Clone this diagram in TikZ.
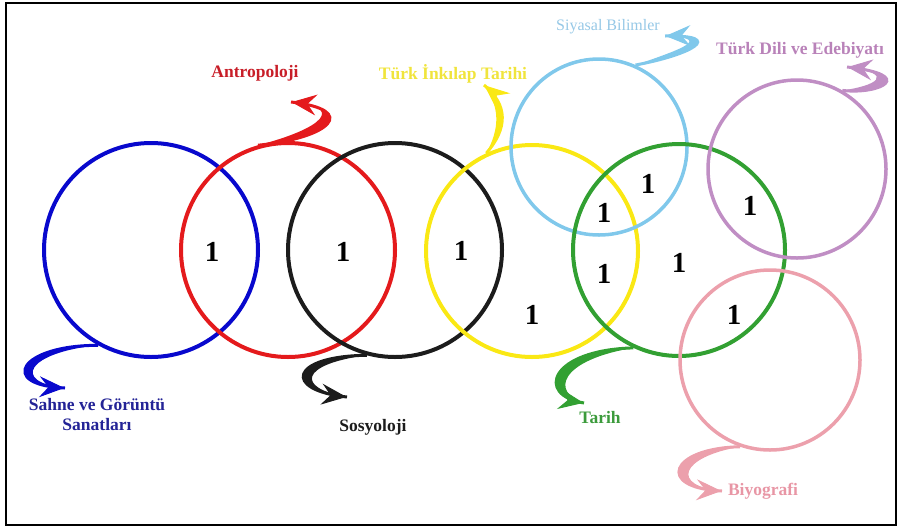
\documentclass[tikz,border=0pt]{standalone}
\usepackage{fontspec}
\setmainfont{Liberation Serif}
\usepackage{tikz}
\usepackage{xcolor}
\usetikzlibrary{positioning, arrows.meta, decorations.markings}

\definecolor{cblue}{RGB}{8,8,205}
\definecolor{cred}{RGB}{228,26,28}
\definecolor{cblack}{RGB}{28,28,28}
\definecolor{cyellow}{RGB}{250,232,20}
\definecolor{csky}{RGB}{128,200,235}
\definecolor{cgreen}{RGB}{50,160,50}
\definecolor{cpurple}{RGB}{192,142,196}
\definecolor{cpink}{RGB}{236,160,172}

\definecolor{tblue}{RGB}{35,35,150}
\definecolor{tred}{RGB}{200,30,40}
\definecolor{tyellow}{RGB}{240,228,60}
\definecolor{tsky}{RGB}{150,200,230}
\definecolor{tpurple}{RGB}{185,130,185}
\definecolor{tgreen}{RGB}{60,155,60}
\definecolor{tpink}{RGB}{232,150,165}

\tikzset{
	ring/.style={circle, draw, line width=4pt, minimum size=#1, inner sep=0pt},
	lbl/.style={font=\bfseries\fontsize{17.5}{20}\selectfont, align=center},
	num/.style={font=\bfseries\fontsize{29}{30}\selectfont, inner sep=0pt},
	curl/.style={line width=3pt, postaction={decorate},
		decoration={markings,
			mark=at position 0.995 with {\arrow[line width=1pt]{Stealth[length=25pt, width=21pt, inset=9pt]}}}}
}

\begin{document}
\begin{tikzpicture}[x=1pt, y=-1pt]
		\useasboundingbox (0,0) rectangle (901,528);
		\draw[line width=2pt] (6,3) rectangle (896,525);

		% rings
		\node[ring=214pt, cblue] (sahne) at (151,250) {};
		\node[ring=214pt, cred] (antro) at (288,250) {};
		\node[ring=214pt, cblack] (sosyo) at (395,250) {};
		\node[ring=212pt, cyellow] (inkilap) at (532,251) {};
		\node[ring=176pt, csky, line width=3.5pt] (siyasal) at (599,147) {};
		\node[ring=212pt, cgreen] (tarih) at (679,250) {};
		\node[ring=178pt, cpurple, line width=3.5pt] (edebiyat) at (797,169) {};
		\node[ring=180pt, cpink, line width=3.5pt] (biyo) at (770,360) {};

		% labels
		\node[lbl, tred] (antrolbl) at (255,73) {Antropoloji};
		\node[lbl, tyellow] (inkilaplbl) at (453,74) {Türk İnkılap Tarihi};
		\node[lbl, tsky, font=\fontsize{16}{18}\selectfont] (siyasallbl) at (608,27) {Siyasal Bilimler};
		\node[lbl, tpurple] (edebiyatlbl) at (800,50) {Türk Dili ve Edebiyatı};
		\node[lbl, tblue] (sahnelbl) at (97,415) {Sahne ve Görüntü\\Sanatları};
		\node[lbl, cblack] (sosyolbl) at (373,427) {Sosyoloji};
		\node[lbl, tgreen] (tarihlbl) at (600,418) {Tarih};
		\node[lbl, tpink] (biyolbl) at (763,491) {Biyografi};

		% arrow tips
		\coordinate (antrotip) at (291,102);
		\coordinate (inkilaptip) at (484,85);
		\coordinate (siyasaltip) at (665,36);
		\coordinate (edebiyattip) at (847,67);
		\coordinate (sahnetip) at (65,388);
		\coordinate (sosyotip) at (347,397);
		\coordinate (tarihtip) at (584,403);
		\coordinate (biyotip) at (722,491);

		% curly arrows: thin stroke plus a thick brush part
		\fill[cred] (antro.106) .. controls (330,138) and (360,110) .. (antrotip)
			.. controls (345,106) and (325,128) .. (antro.106);
		\draw[curl, cred] (antro.106)
			.. controls (330,138) and (360,110) .. (antrotip);

		\fill[cyellow] (inkilap.115) .. controls (508,128) and (508,105) .. (inkilaptip)
			.. controls (500,107) and (500,128) .. (inkilap.115);
		\draw[curl, cyellow] (inkilap.115)
			.. controls (508,128) and (508,105) .. (inkilaptip);

		\fill[csky] (siyasal.66) .. controls (690,55) and (728,35) .. (siyasaltip)
			.. controls (712,38) and (685,48) .. (siyasal.66);
		\draw[curl, csky] (siyasal.66)
			.. controls (690,55) and (728,35) .. (siyasaltip);

		\fill[cpurple] (edebiyat.60) .. controls (880,95) and (918,75) .. (edebiyattip)
			.. controls (898,74) and (875,86) .. (edebiyat.60);
		\draw[curl, cpurple] (edebiyat.60)
			.. controls (880,95) and (918,75) .. (edebiyattip);

		\fill[cblue] (sahne.241) .. controls (20,345) and (-3,385) .. (sahnetip)
			.. controls (10,382) and (28,352) .. (sahne.241);
		\draw[curl, cblue] (sahne.241)
			.. controls (20,345) and (-3,385) .. (sahnetip);

		\fill[cblack] (sosyo.255) .. controls (290,356) and (282,390) .. (sosyotip)
			.. controls (295,388) and (300,364) .. (sosyo.255);
		\draw[curl, cblack] (sosyo.255)
			.. controls (290,356) and (282,390) .. (sosyotip);

		\fill[cgreen] (tarih.245) .. controls (550,350) and (535,395) .. (tarihtip)
			.. controls (550,392) and (560,360) .. (tarih.245);
		\draw[curl, cgreen] (tarih.245)
			.. controls (550,350) and (535,395) .. (tarihtip);

		\fill[cpink] (biyo.251) .. controls (670,448) and (655,488) .. (biyotip)
			.. controls (670,486) and (680,457) .. (biyo.251);
		\draw[curl, cpink] (biyo.251)
			.. controls (670,448) and (655,488) .. (biyotip);

		% counts
		\foreach \x/\y [count=\i] in {212/252, 343/252, 461/251, 532/315, 604/213,
			648/184, 604/274, 679/263, 750/206, 734/315}
			\node[num] (n\i) at (\x,\y) {1};
	\end{tikzpicture}
\end{document}
